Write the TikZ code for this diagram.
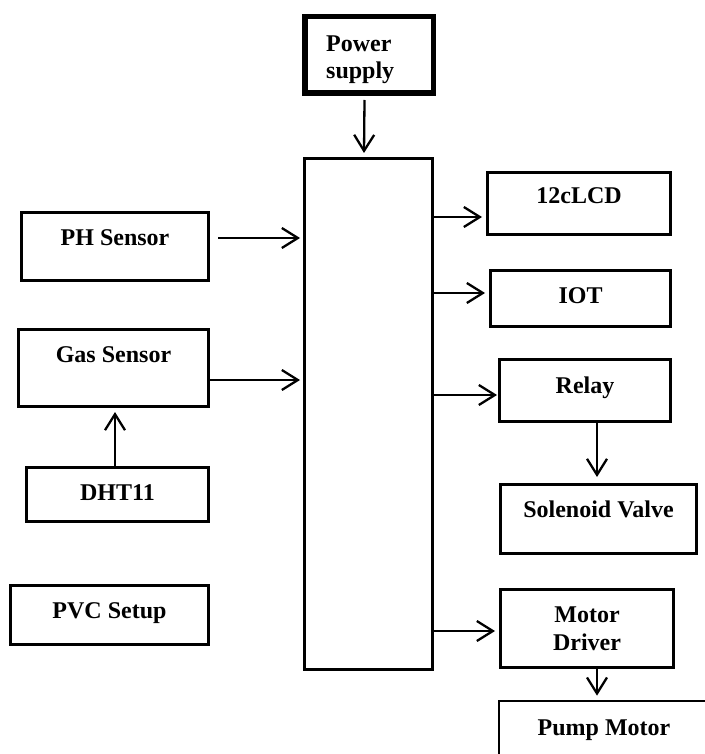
\documentclass[tikz,border=0pt]{standalone}
\usepackage{fontspec}
\setmainfont{Liberation Serif}
\usetikzlibrary{arrows.meta,calc}
\begin{document}
\begin{tikzpicture}[x=1pt,y=-1pt]
\tikzset{
 blk/.style={draw, line width=2.7pt, inner sep=0pt},
 lbl/.style={font=\bfseries\fontsize{24}{28}\selectfont, inner sep=0pt, anchor=base},
 arr/.style={line width=2.3pt, -{Straight Barb[length=16pt,width=20pt]}},
}
\useasboundingbox[fill=white] (0,0) rectangle (704,754);
% boxes
\node[blk, line width=5.5pt, minimum width=128.5pt, minimum height=76.5pt] (pw) at (369,55) {};
\node[blk, minimum width=128.3pt, minimum height=511.3pt] (main) at (368.5,414) {};
\node[blk, minimum width=187.3pt, minimum height=68.3pt] (ph) at (115,246.5) {};
\node[blk, minimum width=190.3pt, minimum height=77.3pt] (gas) at (113.5,368) {};
\node[blk, minimum width=182.3pt, minimum height=54.3pt] (dht) at (117.5,494.5) {};
\node[blk, minimum width=198.3pt, minimum height=59.3pt] (pvc) at (109.5,615) {};
\node[blk, minimum width=183.3pt, minimum height=62.3pt] (lcd) at (579,203.5) {};
\node[blk, minimum width=180.3pt, minimum height=56.3pt] (iot) at (580.5,298.5) {};
\node[blk, minimum width=171.3pt, minimum height=62.3pt] (relay) at (585,390.5) {};
\node[blk, minimum width=196.3pt, minimum height=69.3pt] (sol) at (598.5,519) {};
\node[blk, minimum width=173.3pt, minimum height=78.3pt] (md) at (587,628.5) {};
\node[blk, minimum width=210pt, minimum height=70pt] (pump) at (604,736) {};
% texts
\node[lbl, anchor=north west, align=left, font=\bfseries\fontsize{24}{27}\selectfont] (tpw) at (326,36) {Power\\supply};
\node[lbl] (tph) at (115,245) {PH Sensor};
\node[lbl] (tgas) at (113.5,362.5) {Gas Sensor};
\node[lbl] (tdht) at (117.5,500) {DHT11};
\node[lbl] (tpvc) at (109.5,618) {PVC Setup};
\node[lbl] (tlcd) at (579,204) {12cLCD};
\node[lbl] (tiot) at (580.5,303) {IOT};
\node[lbl] (trelay) at (585,393) {Relay};
\node[lbl] (tsol) at (598.5,517) {Solenoid Valve};
\node[lbl, anchor=north, align=center] (tmd) at (587,607) {Motor\\Driver};
\node[lbl] (tpump) at (604,735) {Pump Motor};
% connectors
\draw[arr] ($(pw.south)+(-4.5,4)$) -- ($(main.north)+(-4.5,-4)$);
\draw[arr] ($(ph.east)+(8,-8.5)$) -- ($(ph.east -| main.west)+(-3,-8.5)$);
\draw[arr] ($(gas.east)+(0,12)$) -- ($(gas.east -| main.west)+(-3,12)$);
\draw[arr] ($(dht.north)+(-2.5,0)$) -- ($(dht.north |- gas.south)+(-2.5,4)$);
\draw[arr] ($(lcd.west -| main.east)+(0,13.5)$) -- ($(lcd.west)+(-4,13.5)$);
\draw[arr] ($(iot.west -| main.east)+(0,-5.5)$) -- ($(iot.west)+(-4,-5.5)$);
\draw[arr] ($(relay.west -| main.east)+(0,4.5)$) -- ($(relay.west)+(-1,4.5)$);
\draw[arr] ($(relay.south)+(12,0)$) -- ($(relay.south |- sol.north)+(12,-6)$);
\draw[arr] ($(md.west -| main.east)+(0,2.5)$) -- ($(md.west)+(-4,2.5)$);
\draw[arr] ($(md.south)+(10,0)$) -- ($(md.south |- pump.north)+(10,-4)$);
\end{tikzpicture}
\end{document}
